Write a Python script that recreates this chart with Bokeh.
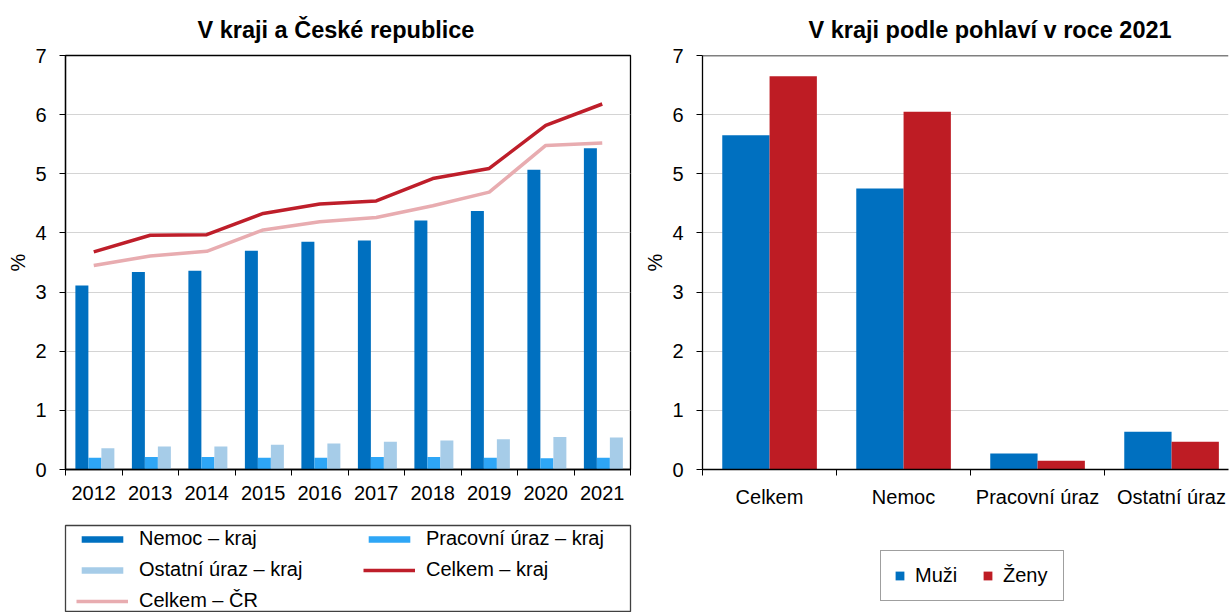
import numpy as np
from bokeh.plotting import figure
from bokeh.models import (Legend, LegendItem, FixedTicker, Range1d, Span,
                          ColumnDataSource)
from bokeh.layouts import row, column
from bokeh.transform import dodge
from bokeh.embed import file_html
from bokeh.resources import INLINE

# ---------------- data ----------------
years = ["2012", "2013", "2014", "2015", "2016", "2017", "2018", "2019", "2020", "2021"]
nemoc_kraj = [3.11, 3.34, 3.36, 3.70, 3.85, 3.87, 4.21, 4.37, 5.07, 5.43]
pracovni_kraj = [0.20, 0.21, 0.21, 0.20, 0.20, 0.21, 0.21, 0.20, 0.19, 0.20]
ostatni_kraj = [0.36, 0.39, 0.39, 0.42, 0.44, 0.47, 0.49, 0.51, 0.55, 0.54]
celkem_kraj = [3.68, 3.96, 3.97, 4.33, 4.49, 4.54, 4.92, 5.09, 5.82, 6.18]
celkem_cr = [3.45, 3.61, 3.69, 4.05, 4.19, 4.26, 4.46, 4.69, 5.48, 5.52]

categories2 = ["Celkem", "Nemoc", "Pracovní úraz", "Ostatní úraz"]
muzi = [5.65, 4.75, 0.27, 0.64]
zeny = [6.65, 6.05, 0.15, 0.47]

y_ticks = [0, 1, 2, 3, 4, 5, 6, 7]

# ---------------- styles ----------------
FONT = "Liberation Sans"
TICK_FS = "20px"
C_NEMOC = "#0070C0"
C_PRAC = "#2EA6F6"
C_OST = "#A6CCE8"
C_KRAJ = "#BE1E2A"
C_CR = "#E8ACB0"
C_MUZI = "#0070C0"
C_ZENY = "#BE1C24"
GRID = "#D4D4D4"
BOX = "#404040"


def style_axes(p, labels):
    p.xgrid.visible = False
    p.ygrid.grid_line_color = GRID
    p.ygrid.grid_line_width = 1
    p.ygrid.ticker = FixedTicker(ticks=y_ticks)
    p.yaxis.ticker = FixedTicker(ticks=y_ticks)
    p.yaxis.axis_label = "%"
    p.yaxis.axis_label_text_font = FONT
    p.yaxis.axis_label_text_font_size = TICK_FS
    p.yaxis.axis_label_text_font_style = "normal"
    p.yaxis.axis_label_text_color = "black"
    p.yaxis.axis_label_standoff = 3
    n = len(labels)
    p.xaxis.ticker = FixedTicker(ticks=list(range(n)),
                                 minor_ticks=[i - 0.5 for i in range(n + 1)])
    p.xaxis.major_label_overrides = {i: lab for i, lab in enumerate(labels)}
    for ax in (p.xaxis, p.yaxis):
        ax.major_label_text_font = FONT
        ax.major_label_text_font_size = TICK_FS
        ax.major_label_text_color = "black"
        ax.axis_line_color = "black"
        ax.axis_line_width = 1.3
        ax.major_tick_line_color = "black"
        ax.minor_tick_line_color = "black"
        ax.major_tick_in = 0
        ax.minor_tick_in = 0
    p.yaxis.major_tick_out = 6
    p.yaxis.minor_tick_out = 0
    p.yaxis.major_label_standoff = 13
    p.xaxis.major_tick_out = 0
    p.xaxis.minor_tick_out = 6
    p.xaxis.major_label_standoff = 10
    p.title.text_font = FONT
    p.title.text_font_size = "23.5px"
    p.title.text_font_style = "bold"
    p.title.text_color = "black"
    p.title.align = "left"
    p.title.standoff = 26


def legend_fig(width, left, right, outline):
    f = figure(width=width, height=100, x_range=Range1d(0, 1), y_range=Range1d(0, 1),
               x_axis_type=None, y_axis_type=None, output_backend="svg",
               toolbar_location=None, min_border_left=left, min_border_right=right,
               min_border_top=13, min_border_bottom=0)
    f.xgrid.visible = False
    f.ygrid.visible = False
    f.outline_line_color = BOX if outline else None
    f.outline_line_width = 1.3
    return f


def style_legend(leg):
    leg.label_text_font = FONT
    leg.label_text_font_size = TICK_FS
    leg.label_text_color = "black"
    leg.margin = 0


NAN = np.array([np.nan])

# ---------------- left chart ----------------
x1 = list(range(len(years)))
src1 = ColumnDataSource(dict(x=x1, nemoc=nemoc_kraj, prac=pracovni_kraj,
                             ost=ostatni_kraj, kraj=celkem_kraj, cr=celkem_cr))

p1 = figure(width=640, height=512, title="V kraji a České republice",
            x_range=Range1d(-0.5, len(years) - 0.5), y_range=Range1d(0, 7),
            output_backend="svg", toolbar_location=None,
            min_border_left=65, min_border_right=10, min_border_top=55,
            min_border_bottom=43)
p1.outline_line_color = "black"
p1.outline_line_width = 1.3
style_axes(p1, years)
p1.title.offset = 132

p1.vbar(x=dodge("x", -0.21), top="nemoc", width=0.23, source=src1,
        fill_color=C_NEMOC, line_color=None)
p1.vbar(x=dodge("x", 0.02), top="prac", width=0.23, source=src1,
        fill_color=C_PRAC, line_color=None)
p1.vbar(x=dodge("x", 0.25), top="ost", width=0.23, source=src1,
        fill_color=C_OST, line_color=None)
p1.line(x="x", y="cr", source=src1, line_color=C_CR, line_width=3.5)
p1.line(x="x", y="kraj", source=src1, line_color=C_KRAJ, line_width=3.5)

# legend box for the left chart (legend proxies hold no visible data)
lf1 = legend_fig(640, 65, 10, True)
k_nemoc = lf1.vbar(x=NAN, top=NAN, width=0.1, fill_color=C_NEMOC, line_color=None)
k_prac = lf1.vbar(x=NAN, top=NAN, width=0.1, fill_color=C_PRAC, line_color=None)
k_ost = lf1.vbar(x=NAN, top=NAN, width=0.1, fill_color=C_OST, line_color=None)
k_kraj = lf1.line(x=NAN, y=NAN, line_color=C_KRAJ, line_width=3.5)
k_cr = lf1.line(x=NAN, y=NAN, line_color=C_CR, line_width=3.5)
leg1 = Legend(items=[
    LegendItem(label="Nemoc – kraj", renderers=[k_nemoc]),
    LegendItem(label="Pracovní úraz – kraj", renderers=[k_prac]),
    LegendItem(label="Ostatní úraz – kraj", renderers=[k_ost]),
    LegendItem(label="Celkem – kraj", renderers=[k_kraj]),
    LegendItem(label="Celkem – ČR", renderers=[k_cr]),
], orientation="horizontal", ncols=2, location=(11, 0))
style_legend(leg1)
leg1.padding = 0
leg1.border_line_color = None
leg1.background_fill_alpha = 0
leg1.glyph_width = 52
leg1.glyph_height = 8
leg1.label_height = 22
leg1.label_width = 216
leg1.label_standoff = 11
leg1.spacing = 8
lf1.add_layout(leg1)

# ---------------- right chart ----------------
x2 = list(range(len(categories2)))
src2 = ColumnDataSource(dict(x=x2, muzi=muzi, zeny=zeny))

p2 = figure(width=589, height=512, title="V kraji podle pohlaví v roce 2021",
            x_range=Range1d(-0.5, -0.5 + 526 / 134), y_range=Range1d(0, 7),
            output_backend="svg", toolbar_location=None,
            min_border_left=62, min_border_right=1, min_border_top=55,
            min_border_bottom=43)
p2.outline_line_color = None
style_axes(p2, categories2)
p2.title.offset = 106
p2.add_layout(Span(location=7, dimension="width", line_color="black",
                   line_width=1.3))

p2.vbar(x=dodge("x", -0.176), top="muzi", width=0.353, source=src2,
        fill_color=C_MUZI, line_color=None)
p2.vbar(x=dodge("x", 0.177), top="zeny", width=0.353, source=src2,
        fill_color=C_ZENY, line_color=None)

# legend box for the right chart
lf2 = legend_fig(589, 62, 1, False)
k_m = lf2.vbar(x=NAN, top=NAN, width=0.1, fill_color=C_MUZI, line_color=None)
k_z = lf2.vbar(x=NAN, top=NAN, width=0.1, fill_color=C_ZENY, line_color=None)
leg2 = Legend(items=[
    LegendItem(label="Muži", renderers=[k_m]),
    LegendItem(label="Ženy", renderers=[k_z]),
], orientation="horizontal", location=(178, 11))
style_legend(leg2)
leg2.padding = 13
leg2.border_line_color = BOX
leg2.border_line_width = 1.3
leg2.background_fill_color = "white"
leg2.background_fill_alpha = 1
leg2.glyph_width = 11
leg2.glyph_height = 11
leg2.label_height = 22
leg2.label_width = 47
leg2.label_standoff = 10
leg2.spacing = 20
lf2.add_layout(leg2)

layout = row(column(p1, lf1), column(p2, lf2))
open("out.html", "w").write(file_html(layout, INLINE))
